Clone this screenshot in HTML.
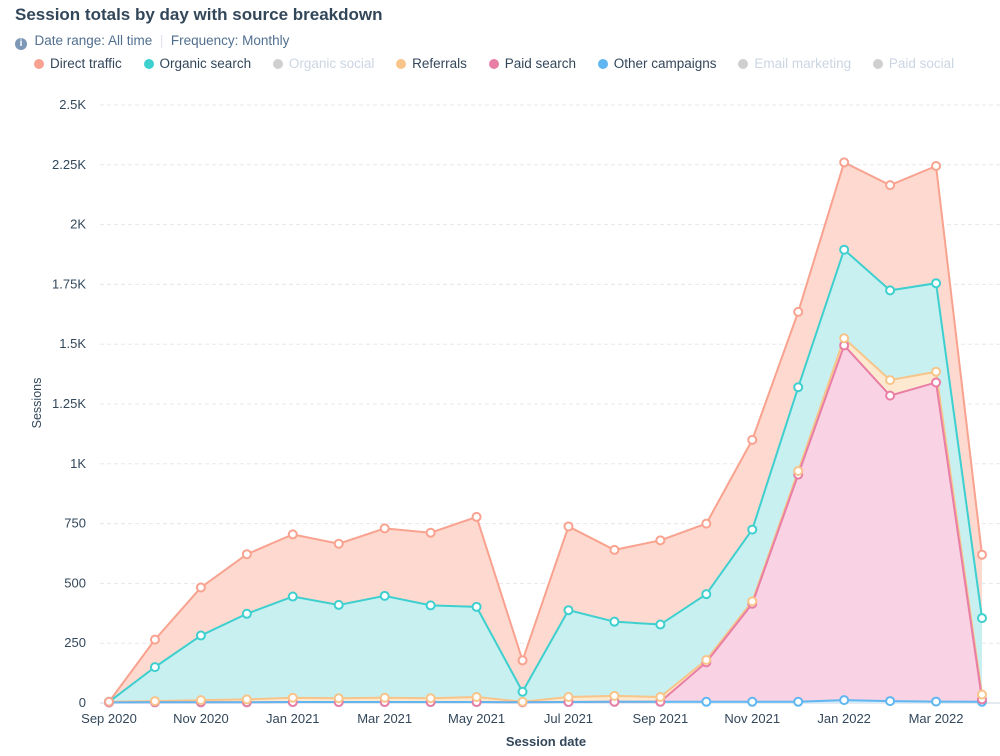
<!DOCTYPE html>
<html><head><meta charset="utf-8">
<style>
body{margin:0;background:#fff;font-family:"Liberation Sans",sans-serif;}
#wrap{position:relative;width:1000px;height:756px;overflow:hidden;}
.title{position:absolute;left:15px;top:5px;font-size:17px;font-weight:bold;color:#33475b;}
.sub{position:absolute;left:15px;top:33px;font-size:13.5px;color:#516f90;}
.legend{position:absolute;left:34px;top:56px;font-size:13.5px;color:#33475b;white-space:nowrap;}
.lg{display:inline-block;margin-right:18px;}
.dot{display:inline-block;width:10px;height:10px;border-radius:50%;margin-right:6px;vertical-align:-1px;}
</style></head><body>
<div id="wrap">
<div class="title">Session totals by day with source breakdown</div>
<div class="sub"><span style="display:inline-block;width:12px;height:12px;border-radius:50%;background:#7c98b6;color:#fff;font-size:10px;text-align:center;line-height:12px;font-weight:bold;vertical-align:-1px">i</span>&nbsp; Date range: All time &nbsp;<span style="color:#dfe3eb">|</span>&nbsp; Frequency: Monthly</div>
<div class="legend">
<span class="lg"><span class="dot" style="background:#f8a28f"></span>Direct traffic</span>
<span class="lg"><span class="dot" style="background:#3ecfcf"></span>Organic search</span>
<span class="lg" style="color:#cbd6e2"><span class="dot" style="background:#cfcfcf"></span>Organic social</span>
<span class="lg"><span class="dot" style="background:#f7c48a"></span>Referrals</span>
<span class="lg"><span class="dot" style="background:#e87ea5"></span>Paid search</span>
<span class="lg"><span class="dot" style="background:#5fb6f0"></span>Other campaigns</span>
<span class="lg" style="color:#cbd6e2"><span class="dot" style="background:#cfcfcf"></span>Email marketing</span>
<span class="lg" style="color:#cbd6e2"><span class="dot" style="background:#cfcfcf"></span>Paid social</span>
</div>
<svg id="chart" width="1000" height="756" style="position:absolute;left:0;top:0"></svg>
</div>
<script>
const months = ["Sep 2020","Oct 2020","Nov 2020","Dec 2020","Jan 2021","Feb 2021","Mar 2021","Apr 2021","May 2021","Jun 2021","Jul 2021","Aug 2021","Sep 2021","Oct 2021","Nov 2021","Dec 2021","Jan 2022","Feb 2022","Mar 2022","Apr 2022"];
const otherCampaigns = [2,3,3,3,4,4,4,4,4,3,4,5,5,5,5,5,12,8,6,5];
const paidSearch = [0,0,0,0,0,0,0,0,0,0,0,0,0,165,410,950,1483,1277,1334,10];
const referrals = [3,5,9,12,18,16,18,16,21,2,21,25,20,10,10,15,30,65,45,20];
const organicSearch = [0,142,270,358,423,390,426,388,377,42,363,310,303,275,300,350,370,375,370,320];
const directTraffic = [0,115,201,249,260,256,282,304,376,131,350,300,352,295,375,315,365,440,490,265];
const yTicks = [0,250,500,750,1000,1250,1500,1750,2000,2250,2500];
const yTickLabels = ["0","250","500","750","1K","1.25K","1.5K","1.75K","2K","2.25K","2.5K"];
const xTickLabels = ["Sep 2020","","Nov 2020","","Jan 2021","","Mar 2021","","May 2021","","Jul 2021","","Sep 2021","","Nov 2021","","Jan 2022","","Mar 2022",""];

const NS="http://www.w3.org/2000/svg";
const svg=document.getElementById('chart');
const x0=109,x1=982,yBase=703,yTop=105;
const xS=i=>x0+(x1-x0)*i/(months.length-1);
const yS=v=>yBase-(yBase-yTop)*v/2500;
function mk(t,a){const e=document.createElementNS(NS,t);for(const k in a)e.setAttribute(k,a[k]);svg.appendChild(e);return e;}

yTicks.forEach((v,i)=>{
  const g=mk('line',{x1:100,x2:1000,y1:yS(v),y2:yS(v),stroke:v===0?'#cbd6e2':'#e5e8ed','stroke-dasharray':v===0?'':'4,3'});
  
  
  const t=mk('text',{x:86,y:yS(v)+4,'text-anchor':'end','font-size':13,fill:'#33475b'});
  t.textContent=yTickLabels[i];
  
  
});
xTickLabels.forEach((l,i)=>{
  if(!l)return;
  const t=mk('text',{x:xS(i),y:723,'text-anchor':'middle','font-size':13,fill:'#33475b'});
  t.textContent=l;
  
  
});
const yt=mk('text',{x:41,y:403,'text-anchor':'middle','font-size':12.5,fill:'#33475b',transform:'rotate(-90 41 403)'});
yt.textContent='Sessions';


const xt=mk('text',{x:546,y:746,'text-anchor':'middle','font-size':13,'font-weight':'bold',fill:'#33475b'});
xt.textContent='Session date';



const series=[
 {name:'other-campaigns',d:otherCampaigns,s:'#5fb6f0',f:'#d6ecfb'},
 {name:'paid-search',d:paidSearch,s:'#e87ea5',f:'#f9d3e3'},
 {name:'referrals',d:referrals,s:'#f7c48a',f:'#fde9cf'},
 {name:'organic-search',d:organicSearch,s:'#3ecfcf',f:'#c9f0f0'},
 {name:'direct-traffic',d:directTraffic,s:'#f8a28f',f:'#fdd9cf'}];
let base=months.map(()=>0);
const tops=[];
series.forEach(se=>{
  const top=base.map((b,i)=>b+se.d[i]);
  tops.push({se,top});
  let p='M'+top.map((v,i)=>xS(i)+','+yS(v)).join('L');
  for(let i=months.length-1;i>=0;i--)p+='L'+xS(i)+','+yS(base[i]);
  const a=mk('path',{d:p+'Z',fill:se.f,stroke:'none'});
  
  
  base=top;
});
tops.slice().reverse().forEach(({se,top})=>{
  const l=mk('polyline',{points:top.map((v,i)=>xS(i)+','+yS(v)).join(' '),fill:'none',stroke:se.s,'stroke-width':2});
  
  
});
tops.forEach(({se,top})=>{
  top.forEach((v,i)=>{
    const c=mk('circle',{cx:xS(i),cy:yS(v),r:4,fill:'#fff',stroke:se.s,'stroke-width':2});
    
    
  });
});
</script>
</body></html>
